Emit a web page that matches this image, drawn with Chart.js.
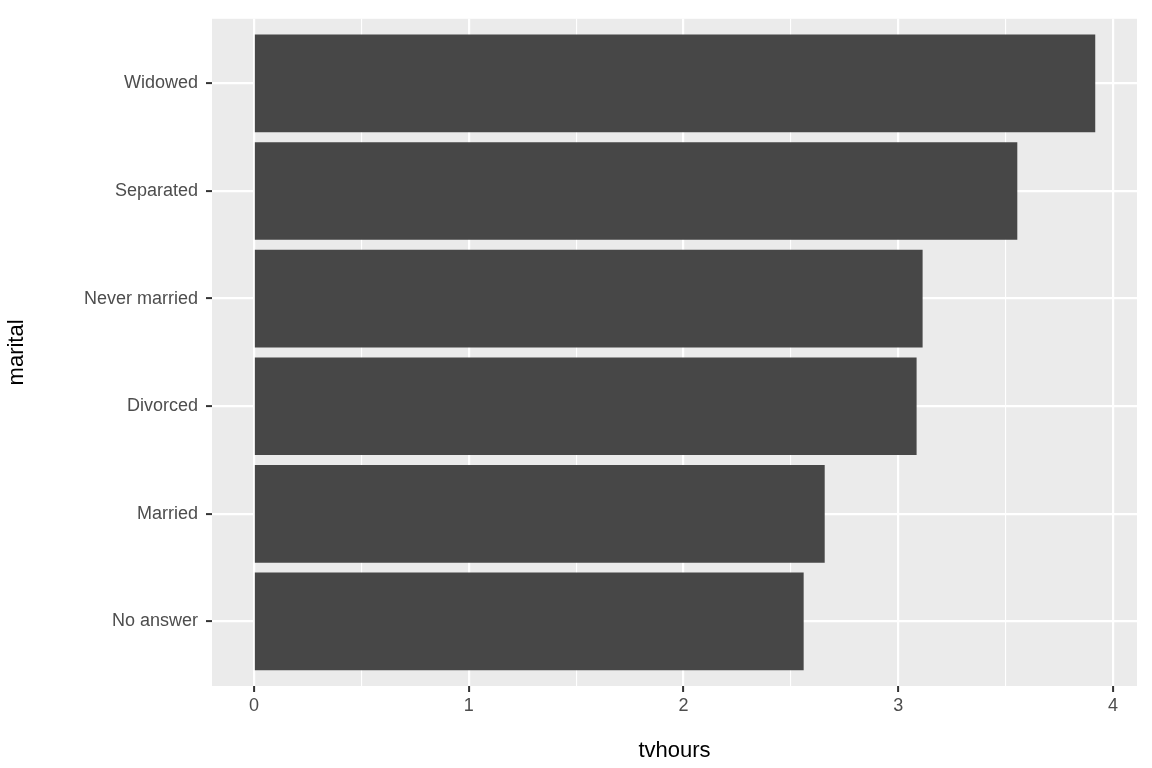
<!DOCTYPE html>
<html><head><meta charset="utf-8">
<script src="https://cdn.jsdelivr.net/npm/chart.js@4"></script>
<style>html,body{margin:0;padding:0;background:#fff}#wrap{width:1152px;height:768px}</style>
</head><body><div id="wrap"><canvas id="c" width="1152" height="768"></canvas></div>
<script>
const categories = ["No answer","Married","Divorced","Never married","Separated","Widowed"];
const tvhours = [2.558, 2.656, 3.084, 3.112, 3.553, 3.916];
const xTicks = [0,1,2,3,4];

const bgPlugin = {
  id:'bg',
  beforeDraw(chart){
    const {ctx, chartArea:a} = chart;
    ctx.save(); ctx.fillStyle='#ebebeb';
    ctx.fillRect(a.left,a.top,a.right-a.left,a.bottom-a.top); ctx.restore();
  }
};
const font = {family:'Liberation Sans, Arial, sans-serif', size:18};
new Chart(document.getElementById('c'), {
  type:'bar',
  data:{datasets:[{data:categories.map((c,i)=>({x:tvhours[i], y:i})), backgroundColor:'#474747', borderWidth:0, barThickness:97}]},
  options:{
    indexAxis:'y', responsive:false, animation:false,
    layout:{padding:{top:14,right:15,left:0,bottom:0}},
    plugins:{legend:{display:false},tooltip:{enabled:false}},
    scales:{
      x:{type:'linear', min:-0.196, max:4.112,
        afterBuildTicks(s){ s.ticks=[0,0.5,1,1.5,2,2.5,3,3.5,4].map(v=>({value:v})); },
        afterFit(s){ s.height=82; },
        ticks:{color:'#4d4d4d', font, padding:3, autoSkip:false, maxRotation:0,
          callback:(v)=> Number.isInteger(v) && xTicks.includes(v) ? String(v) : ''},
        grid:{offset:false, color:'#ffffff', lineWidth:(c)=> Number.isInteger(c.tick && c.tick.value)?2.2:1.1,
          tickColor:(c)=> Number.isInteger(c.tick && c.tick.value)?'#333333':'rgba(0,0,0,0)', tickLength:6, tickWidth:2, drawTicks:true},
        border:{display:false},
        title:{display:true, text:'tvhours', color:'#000', font:{family:font.family,size:22}, padding:{top:0}}
      },
      y:{type:'linear', min:-0.6, max:5.6, offset:false,
        afterBuildTicks(s){ s.ticks=categories.map((c,i)=>({value:i})); },
        afterFit(s){ s.width=212; },
        ticks:{color:'#4d4d4d', font, padding:8, autoSkip:false, callback:(v)=>categories[v] ?? ''},
        grid:{offset:false, color:'#ffffff', lineWidth:2.2, tickColor:'#333333', tickLength:6, tickWidth:2},
        border:{display:false},
        title:{display:true, text:'marital', color:'#000', font:{family:font.family,size:22}, padding:{bottom:4}}
      }
    }
  },
  plugins:[bgPlugin]
});
</script></body></html>
